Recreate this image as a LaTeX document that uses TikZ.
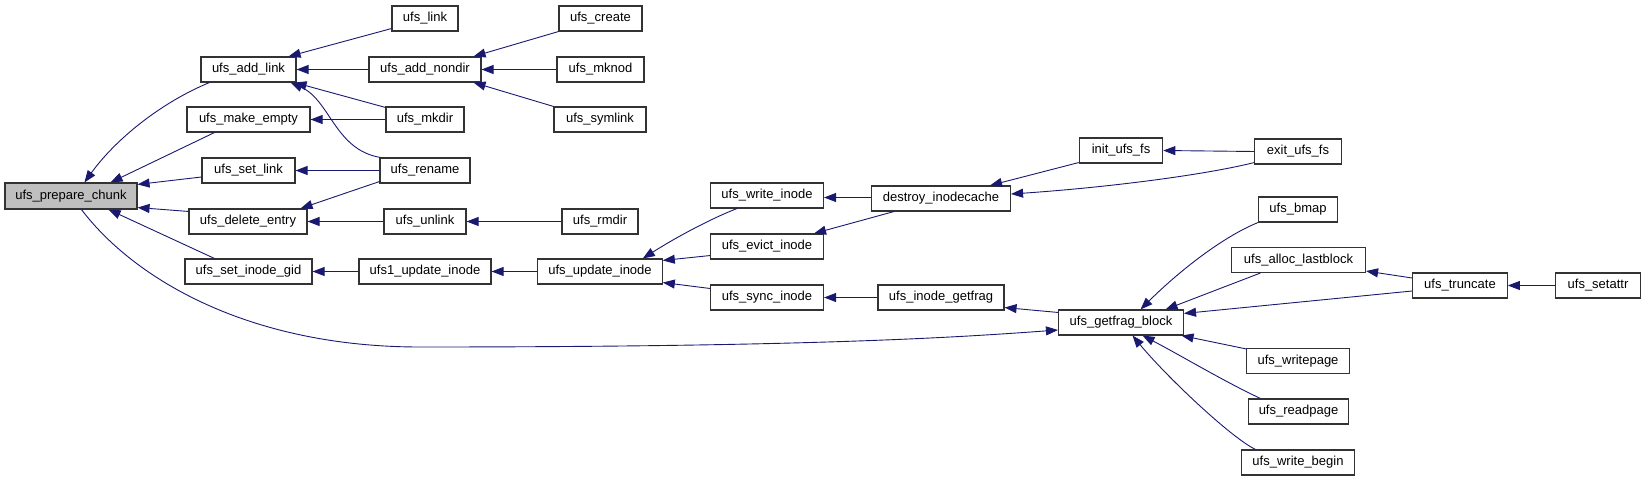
\documentclass[tikz,border=0pt]{standalone}
\usepackage{fontspec}
\setmainfont{Liberation Sans}
\usetikzlibrary{arrows.meta}
\definecolor{edgeblue}{HTML}{191970}
\definecolor{boxline}{HTML}{333333}
\definecolor{hilite}{HTML}{BFBFBF}
\tikzset{
  fn/.style={draw=boxline, line width=1.1pt, rectangle, inner sep=0pt,
    minimum height=25pt, fill=white, font=\fontsize{13}{15}\selectfont},
  cur/.style={fn, fill=hilite, minimum height=26pt},
  edge/.style={draw=edgeblue, line width=0.9pt,
    -{Triangle[length=12pt,width=9pt]}, fill=none},
}
\begin{document}
\begin{tikzpicture}[x=1pt,y=-1pt]
\useasboundingbox (0,0) rectangle (1645,481);
% column 1
\node[cur, minimum width=132pt] (pc) at (71,196) {ufs\_prepare\_chunk};
\node[fn, minimum width=95pt] (addlink) at (248.5,69.5) {ufs\_add\_link};
\node[fn, minimum width=123pt] (mkempty) at (248.5,119.5) {ufs\_make\_empty};
\node[fn, minimum width=93pt] (setlink) at (248.5,170.5) {ufs\_set\_link};
\node[fn, minimum width=118pt] (delentry) at (248,221.5) {ufs\_delete\_entry};
\node[fn, minimum width=127pt] (setgid) at (248.5,271.5) {ufs\_set\_inode\_gid};
% column 2
\node[fn, minimum width=66pt] (link) at (425,18.5) {ufs\_link};
\node[fn, minimum width=112pt] (addnondir) at (425,69.5) {ufs\_add\_nondir};
\node[fn, minimum width=78pt] (mkdir) at (425,119.5) {ufs\_mkdir};
\node[fn, minimum width=90pt] (rename) at (425,170.5) {ufs\_rename};
\node[fn, minimum width=82pt] (unlink) at (425,221.5) {ufs\_unlink};
\node[fn, minimum width=132pt] (ufsone) at (425,271.5) {ufs1\_update\_inode};
% column 3
\node[fn, minimum width=83pt] (create) at (600.5,18.5) {ufs\_create};
\node[fn, minimum width=87pt] (mknod) at (600.5,69.5) {ufs\_mknod};
\node[fn, minimum width=92pt] (symlink) at (600,119.5) {ufs\_symlink};
\node[fn, minimum width=76pt] (rmdir) at (600,221.5) {ufs\_rmdir};
\node[fn, minimum width=124.5pt] (update) at (600,271.5) {ufs\_update\_inode};
% column 4
\node[fn, minimum width=113pt] (writeinode) at (767,195.5) {ufs\_write\_inode};
\node[fn, minimum width=113pt] (evict) at (767,246.5) {ufs\_evict\_inode};
\node[fn, minimum width=113pt] (sync) at (767,297.5) {ufs\_sync\_inode};
% column 5
\node[fn, minimum width=139pt] (destroy) at (941,198.5) {destroy\_inodecache};
\node[fn, minimum width=126pt] (inodegetfrag) at (941,297.5) {ufs\_inode\_getfrag};
% column 6
\node[fn, minimum width=83.5pt] (init) at (1121,150.5) {init\_ufs\_fs};
\node[fn, minimum width=125pt] (getfrag) at (1121,322.5) {ufs\_getfrag\_block};
% column 7
\node[fn, minimum width=86.4pt] (exit) at (1298,151.5) {exit\_ufs\_fs};
\node[fn, minimum width=79pt] (bmap) at (1298,209.5) {ufs\_bmap};
\node[fn, minimum width=134pt] (alloc) at (1298.5,260) {ufs\_alloc\_lastblock};
\node[fn, minimum width=102.4pt] (writepage) at (1298,361) {ufs\_writepage};
\node[fn, minimum width=100pt] (readpage) at (1298.5,411.5) {ufs\_readpage};
\node[fn, minimum width=113pt] (writebegin) at (1298,462.5) {ufs\_write\_begin};
% columns 8, 9
\node[fn, minimum width=94.6pt] (truncate) at (1460,285.5) {ufs\_truncate};
\node[fn, minimum width=84.3pt] (setattr) at (1598,285.5) {ufs\_setattr};
\coordinate (bend) at (420,347);

% edges into ufs_prepare_chunk
\draw[edge] ([xshift=9pt]addlink.south west) .. controls (160,103) and (115,140) .. ([xshift=80pt]pc.north west);
\draw[edge] ([xshift=28pt]mkempty.south west) -- ([xshift=-27pt]pc.north east);
\draw[edge] ([yshift=-6.5pt]setlink.west) -- ([yshift=-2pt]pc.north east);
\draw[edge] ([yshift=-3pt]delentry.north west) -- ([yshift=2pt]pc.south east);
\draw[edge] ([xshift=30pt]setgid.north west) -- ([xshift=-29pt]pc.south east);
\draw[edge] ([xshift=77pt]pc.south west) .. controls (135,280) and (250,347) .. (bend)
  .. controls (800,347) and (950,338) .. ([yshift=-7.5pt]getfrag.west);
% into ufs_add_link
\draw[edge] ([yshift=3pt]link.south west) -- ([xshift=-8pt]addlink.north east);
\draw[edge] (addnondir.west) -- (addlink.east);
\draw[edge] ([yshift=-1pt]mkdir.north west) -- ([xshift=-2pt]addlink.south east);
\draw[edge] ([xshift=1pt]rename.north west) .. controls (335,150) and (330,100) .. ([xshift=-6pt]addlink.south east);
% others in left part
\draw[edge] (mkdir.west) -- (mkempty.east);
\draw[edge] (rename.west) -- (setlink.east);
\draw[edge] ([yshift=2pt]rename.south west) -- ([xshift=-7pt]delentry.north east);
\draw[edge] (unlink.west) -- (delentry.east);
\draw[edge] (create.south west) -- ([xshift=-8pt]addnondir.north east);
\draw[edge] (mknod.west) -- (addnondir.east);
\draw[edge] (symlink.north west) -- ([xshift=-8pt]addnondir.south east);
\draw[edge] (rmdir.west) -- (unlink.east);
\draw[edge] (ufsone.west) -- (setgid.east);
\draw[edge] (update.west) -- (ufsone.east);
% update inode group
\draw[edge] ([xshift=27pt]writeinode.south west) .. controls (710,219) and (675,238) .. ([xshift=-20pt]update.north east);
\draw[edge] ([yshift=4pt]evict.south west) -- ([yshift=-2pt]update.north east);
\draw[edge] ([yshift=-4pt]sync.north west) -- ([yshift=2pt]update.south east);
\draw[edge] ([yshift=1pt]destroy.west) -- ([yshift=-2pt]writeinode.east);
\draw[edge] ([xshift=23pt]destroy.south west) -- ([xshift=-10pt]evict.north east);
\draw[edge] ([yshift=1pt]init.south west) -- ([xshift=-21pt]destroy.north east);
\draw[edge] ([yshift=2pt]exit.south west) .. controls (1200,176) and (1100,188) .. ([yshift=4.5pt]destroy.east);
\draw[edge] (exit.west) -- (init.east);
\draw[edge] (inodegetfrag.west) -- (sync.east);
\draw[edge] ([yshift=-3pt]getfrag.north west) -- ([yshift=3pt]inodegetfrag.south east);
% into ufs_getfrag_block
\draw[edge] (bmap.south west) .. controls (1220,238) and (1175,275) .. ([xshift=-43.5pt]getfrag.north east);
\draw[edge] ([xshift=29.4pt]alloc.south west) -- ([xshift=-18.5pt]getfrag.north east);
\draw[edge] ([yshift=-5.5pt]truncate.west) -- ([yshift=-4pt]getfrag.north east);
\draw[edge] ([yshift=7.5pt]truncate.west) -- ([yshift=2pt]alloc.south east);
\draw[edge] (setattr.west) -- (truncate.east);
\draw[edge] ([yshift=-1pt]writepage.north west) -- ([xshift=-2.5pt]getfrag.south east);
\draw[edge] ([xshift=12.5pt]readpage.north west) .. controls (1225,382) and (1180,355) .. ([xshift=-41.5pt]getfrag.south east);
\draw[edge] ([xshift=14.5pt]writebegin.north west) .. controls (1230,437) and (1165,375) .. ([xshift=-51.5pt]getfrag.south east);
\end{tikzpicture}
\end{document}
